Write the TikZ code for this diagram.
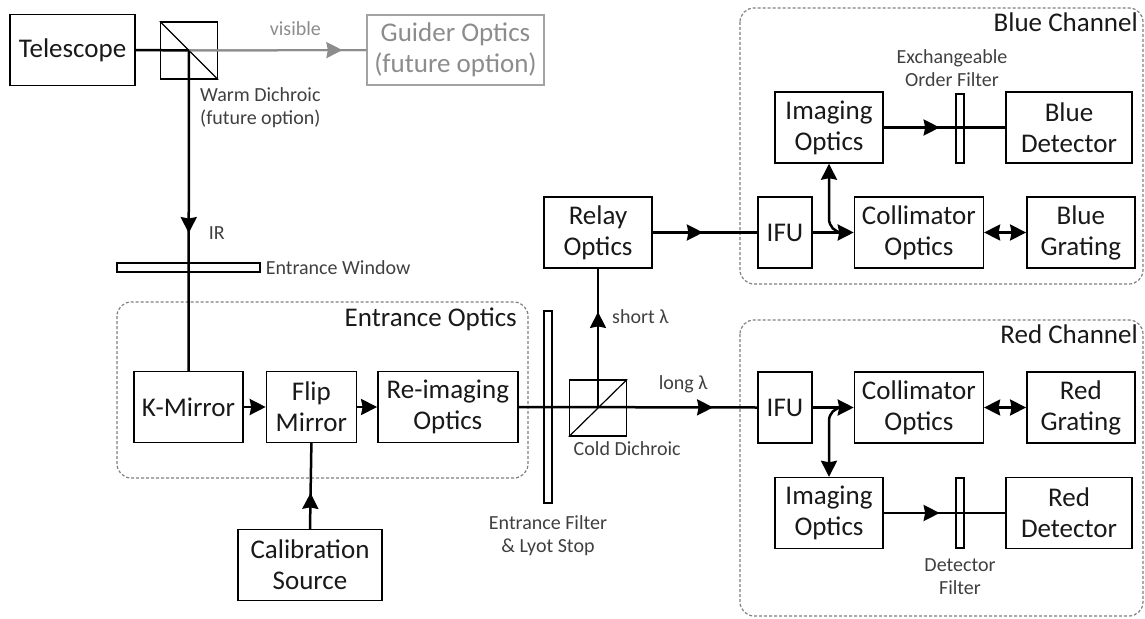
\documentclass[tikz,border=0pt]{standalone}
\usepackage{fontspec}
\setmainfont{Carlito}
\usetikzlibrary{
	arrows.meta,
	positioning,
	calc,
	decorations.markings,
}
\definecolor{DimGray}{HTML}{8C8C8C}
\definecolor{FrameGray}{HTML}{808080}
\tikzset{beamtip/.tip={Stealth[length=16pt,width=16pt,inset=1.5pt]}}

\begin{document}
\begin{tikzpicture} [
			x=1pt, y=-1pt,
			every node/.style={align=center},
			comp/.style={draw,line width=1.4pt,text=black!90,inner sep=1pt,minimum height=71pt,font=\fontsize{27}{31}\selectfont},
			ghost/.style={comp,draw=DimGray!80,text=DimGray},
			cube/.style={draw,line width=1.4pt,minimum width=57pt,minimum height=57pt,inner sep=0pt},
			plate/.style={draw,line width=1.2pt,inner sep=0pt,minimum width=8pt},
			groupbox/.style={draw=FrameGray,dash pattern=on 3pt off 2pt,line width=1.2pt,rounded corners=14pt},
			grouptitle/.style={anchor=base east,inner sep=0pt,text=black!90,font=\fontsize{27}{31}\selectfont},
			note/.style={text=black!75,inner sep=0pt,font=\fontsize{20}{23}\selectfont},
			beam/.style={line width=2.5pt},
			flow/.style={postaction={decorate},decoration={markings,mark=at position #1 with {\arrow{beamtip}}}},
		]
		\useasboundingbox (0,0) rectangle (1145,618);

		% groups
		\draw[groupbox] (117,302) rectangle (528,478);
		\draw[groupbox] (740,8) rectangle (1143,284);
		\draw[groupbox] (740,320) rectangle (1143,616);
		\node[grouptitle] (eotitle) at (517,326) {Entrance Optics};
		\node[grouptitle] (bctitle) at (1138,32) {Blue Channel};
		\node[grouptitle] (rctitle) at (1138,343) {Red Channel};

		% front end
		\node [comp, minimum width=125pt] (telescope) at (72.5,50) {Telescope};
		\node [cube] (warm) at (189,50.5) {};
		\draw[line width=1.2pt] (warm.north west) -- (warm.south east);
		\node [ghost, minimum width=177pt, minimum height=70pt] (guider) at (455.5,50) {Guider Optics \\ (future option)};
		\node [plate, minimum width=143pt, minimum height=9pt] (window) at (188.5,267.5) {};

		% entrance optics
		\node [comp, minimum width=109pt] (kmirror) at (188.5,407) {K-Mirror};
		\node [comp, minimum width=90pt, right=22pt of kmirror] (flip) {Flip \\ Mirror};
		\node [comp, minimum width=140pt, right=20pt of flip] (reimg) {Re-imaging \\ Optics};
		\node [comp, minimum width=144pt] (calib) at (310,565) {Calibration \\ Source};

		\node [plate, minimum height=192pt] (efilter) at (548,407) {};
		\node [cube, minimum height=56pt] (cold) at (598,408) {};
		\draw[line width=1.2pt] (cold.south west) -- (cold.north east);
		\node [comp, minimum width=108pt] (relay) at (598,232.5) {Relay \\ Optics};

		% blue channel
		\node [comp, minimum width=54pt] (ifuB) at (785,232.5) {IFU};
		\node [comp, minimum width=129pt, right=41pt of ifuB] (collB) {Collimator \\ Optics};
		\node [comp, minimum width=108pt, right=42pt of collB] (gratB) {Blue \\ Grating};
		\node [comp, minimum width=108pt] (imgB) at (829,127.5) {Imaging \\ Optics};
		\node [comp, minimum width=126pt] (detB) at (1069,127.5) {Blue \\ Detector};
		\node [plate, minimum height=69pt] (filtB) at (960,128.5) {};

		% red channel
		\node [comp, minimum width=54pt] (ifuR) at (785,407.5) {IFU};
		\node [comp, minimum width=129pt, right=41pt of ifuR] (collR) {Collimator \\ Optics};
		\node [comp, minimum width=108pt, right=42pt of collR] (gratR) {Red \\ Grating};
		\node [comp, minimum width=108pt] (imgR) at (829,513) {Imaging \\ Optics};
		\node [comp, minimum width=126pt] (detR) at (1069,513) {Red \\ Detector};
		\node [plate, minimum height=70pt] (filtR) at (960,513) {};

		% beams
		\draw[line width=2pt,DimGray] (warm.center) -- coordinate[pos=0.6] (vis) (guider.west);
		\draw[line width=2pt,DimGray,flow=0.865] (warm.center) -- (guider.west);
		\node[note,text=DimGray,above=14pt] at (vis) {visible};
		\draw[beam] (telescope.east) -- (warm.center);
		\draw[beam,flow=0.57] (warm.center) -- coordinate[pos=0.57] (ir) (kmirror.north);
		\node[note,anchor=west] at ($(ir)+(20,0)$) {IR};
		\draw[beam,-beamtip] (kmirror) -- (flip);
		\draw[beam,-beamtip] (flip) -- (reimg);
		\draw[beam,flow=0.42] (calib.north) -- (flip.south);
		\draw[beam,flow=0.815] (reimg.east) -- coordinate[pos=0.69] (lng) (ifuR.west);
		\draw[beam,flow=0.69] (cold.center) -- coordinate[pos=0.69] (sht) (relay.south);
		\draw[beam,flow=0.48] (relay.east) -- (ifuB.west);

		\coordinate (splitB) at ($(ifuB.east)!0.72!(collB.west)$);
		\draw[beam,-beamtip] (ifuB.east) -- (collB.west);
		\draw[beam,-beamtip] (splitB) to[out=180,in=-90] ($(imgB.south)+(0,55)$) -- (imgB.south);
		\draw[beam,beamtip-beamtip] (collB) -- (gratB);
		\draw[beam,flow=0.46] (imgB.east) -- (detB.west);

		\coordinate (splitR) at ($(ifuR.east)!0.72!(collR.west)$);
		\draw[beam,-beamtip] (ifuR.east) -- (collR.west);
		\draw[beam,-beamtip] (splitR) to[out=180,in=90] ($(imgR.north)+(0,-56)$) -- (imgR.north);
		\draw[beam,beamtip-beamtip] (collR) -- (gratR);
		\draw[beam,flow=0.46] (imgR.east) -- (detR.west);

		% labels
		\node[note,anchor=north west,align=left] (warmlbl) at ($(warm.south)+(11,8)$) {Warm Dichroic \\ (future option)};
		\node[note,right=5pt of window] (winlbl) {Entrance Window};
		\node[note,below=12pt of efilter] (eflbl) {Entrance Filter \\ \& Lyot Stop};
		\node[note,below=5pt of cold.south east,anchor=north] (coldlbl) {Cold Dichroic};
		\node[note,anchor=west] (shtlbl) at ($(sht)+(14,5)$) {short λ};
		\node[note,above=14pt] (lnglbl) at (lng) {long λ};
		\node[note,above=7pt of filtB,xshift=-8pt] (filtBlbl) {Exchangeable \\ Order Filter};
		\node[note,below=10pt of filtR] (filtRlbl) {Detector \\ Filter};
	\end{tikzpicture}
\end{document}
